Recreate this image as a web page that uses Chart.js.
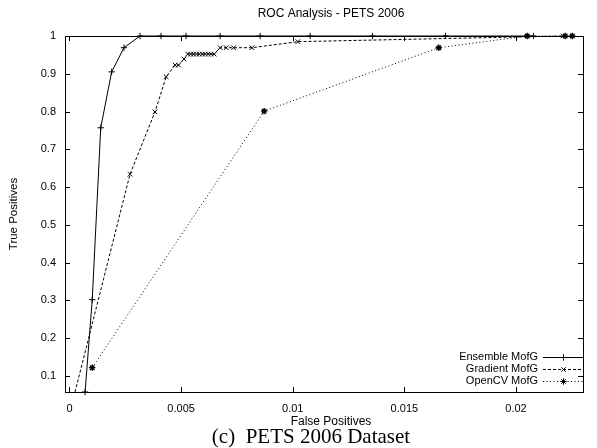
<!DOCTYPE html>
<html><head><meta charset="utf-8">
<script src="https://cdn.jsdelivr.net/npm/chart.js@4/dist/chart.umd.min.js"></script>
<style>
html,body{margin:0;padding:0;background:#fff;}
#wrap{position:relative;width:597px;height:448px;}
#caption{position:absolute;left:211px;width:200px;top:425px;text-align:center;white-space:nowrap;font-family:"Liberation Serif",serif;font-size:21px;color:#000;line-height:22px;}
</style></head>
<body><div id="wrap"><canvas id="c" width="597" height="448"></canvas><div id="caption">(c)&nbsp; PETS 2006 Dataset</div></div>
<script>
const title = "ROC Analysis - PETS 2006";
const xLabel = "False Positives";
const yLabel = "True Positives";
const seriesNames = ["Ensemble MofG", "Gradient MofG", "OpenCV MofG"];
const xTicks = [0, 0.005, 0.01, 0.015, 0.02];
const yTicks = [0.1, 0.2, 0.3, 0.4, 0.5, 0.6, 0.7, 0.8, 0.9, 1];

const ensembleFP = [0.0007, 0.00102, 0.0014, 0.00189, 0.00244, 0.00316, 0.0041, 0.00522, 0.00675, 0.00854, 0.01078, 0.01357, 0.01684, 0.02078];
const ensembleTP = [0.0576, 0.302, 0.757, 0.905, 0.969, 1, 1, 1, 1, 1, 1, 1, 1, 1];

const gradientFP = [0.00025, 0.00271, 0.00383, 0.00433, 0.00473, 0.00488, 0.00513, 0.0053, 0.00543, 0.00556, 0.00569, 0.00582, 0.00595, 0.00608, 0.00621, 0.00634, 0.00648, 0.00675, 0.00702, 0.00735, 0.00817, 0.01023, 0.0221];
const gradientTP = [0.0576, 0.634, 0.799, 0.892, 0.923, 0.923, 0.939, 0.952, 0.952, 0.952, 0.952, 0.952, 0.952, 0.952, 0.952, 0.952, 0.952, 0.969, 0.969, 0.969, 0.969, 0.985, 1];

const opencvFP = [0.00102, 0.00872, 0.01654, 0.0205, 0.0222, 0.02252];
const opencvTP = [0.122, 0.801, 0.969, 1, 1, 1];

const X_MIN = -0.0002, X_MAX = 0.0230, Y_MIN = 0.0576, Y_MAX = 1;
const FONT = "'Liberation Sans', Arial, sans-serif";

function pts(xs, ys){ return xs.map((x,i)=>({x:x, y:ys[i]})); }

const styles = [
  {dash: [], marker: 'cross', bw: 1},
  {dash: [3,2], marker: 'crossRot', bw: 1},
  {dash: [1,2.5], marker: 'star', bw: 1.4}
];

const frame = {
  id: 'frame',
  afterDraw(chart){
    const ctx = chart.ctx, a = chart.chartArea;
    const xs = chart.scales.x, ys = chart.scales.y;
    ctx.save();
    ctx.strokeStyle = '#000'; ctx.lineWidth = 1; ctx.setLineDash([]);
    ctx.strokeRect(Math.round(a.left)+0.5, Math.round(a.top)+0.5, Math.round(a.right-a.left), Math.round(a.bottom-a.top));
    const L = 5;
    ctx.beginPath();
    xTicks.forEach(v=>{ const p = Math.round(xs.getPixelForValue(v))+0.5;
      ctx.moveTo(p, a.bottom); ctx.lineTo(p, a.bottom-L);
      ctx.moveTo(p, a.top); ctx.lineTo(p, a.top+L); });
    yTicks.forEach(v=>{ const p = Math.round(ys.getPixelForValue(v))+0.5;
      ctx.moveTo(a.left, p); ctx.lineTo(a.left+L, p);
      ctx.moveTo(a.right, p); ctx.lineTo(a.right-L, p); });
    ctx.stroke();
    // texts
    ctx.fillStyle = '#000';
    ctx.font = '12px ' + FONT;
    ctx.textAlign = 'center'; ctx.textBaseline = 'middle';
    ctx.fillText(title, 331, 14);
    ctx.fillText(xLabel, 331, 422);
    ctx.save();
    ctx.font = '11.5px ' + FONT;
    ctx.translate(14, 214);
    ctx.rotate(-Math.PI/2);
    ctx.fillText(yLabel, 0, 0);
    ctx.restore();
    // legend
    const rows = [357, 369, 381];
    ctx.font = '11px ' + FONT;
    ctx.textAlign = 'right';
    chart.data.datasets.forEach((ds, i)=>{
      const y = rows[i];
      ctx.fillStyle = '#000';
      ctx.strokeStyle = '#000';
      ctx.fillText(ds.label, 538, y);
      ctx.lineWidth = 1;
      ctx.beginPath();
      ctx.setLineDash(styles[i].dash);
      ctx.moveTo(543, y+0.5); ctx.lineTo(584, y+0.5);
      ctx.stroke();
      ctx.setLineDash([]);
      Chart.helpers.drawPoint(ctx, {pointStyle: styles[i].marker, radius: 3.2, borderWidth: styles[i].bw, rotation: 0}, 563.5, y+0.5);
    });
    ctx.restore();
  }
};

const datasetsData = [pts(ensembleFP, ensembleTP), pts(gradientFP, gradientTP), pts(opencvFP, opencvTP)];

new Chart(document.getElementById('c'), {
  type: 'scatter',
  data: {
    datasets: datasetsData.map((d, i)=>({
      label: seriesNames[i],
      data: d,
      showLine: true,
      borderColor: '#000',
      backgroundColor: '#000',
      borderWidth: 1,
      borderDash: styles[i].dash,
      pointStyle: styles[i].marker,
      pointRadius: d.map((p, j)=> (i === 1 && j === 0) ? 0 : 3.2),
      pointBorderWidth: styles[i].bw,
      pointBorderColor: '#000',
      clip: false,
      tension: 0
    }))
  },
  options: {
    responsive: false,
    animation: false,
    devicePixelRatio: 1,
    layout: {padding: {top: 36, right: 14, left: 0, bottom: 0}},
    plugins: {legend: {display: false}, tooltip: {enabled: false}, title: {display: false}},
    scales: {
      x: {
        type: 'linear', min: X_MIN, max: X_MAX,
        afterFit(s){ s.height = 56; },
        afterBuildTicks(s){ s.ticks = xTicks.map(v=>({value: v})); },
        grid: {display: false, drawTicks: false},
        border: {display: false},
        ticks: {color: '#000', font: {family: FONT, size: 11}, padding: 10, maxRotation: 0,
          callback: v => String(v)}
      },
      y: {
        type: 'linear', min: Y_MIN, max: Y_MAX,
        afterFit(s){ s.width = 65; },
        afterBuildTicks(s){ s.ticks = yTicks.map(v=>({value: v})); },
        grid: {display: false, drawTicks: false},
        border: {display: false},
        ticks: {color: '#000', font: {family: FONT, size: 11}, padding: 9,
          callback: v => String(v)}
      }
    }
  },
  plugins: [frame]
});
</script></body></html>
